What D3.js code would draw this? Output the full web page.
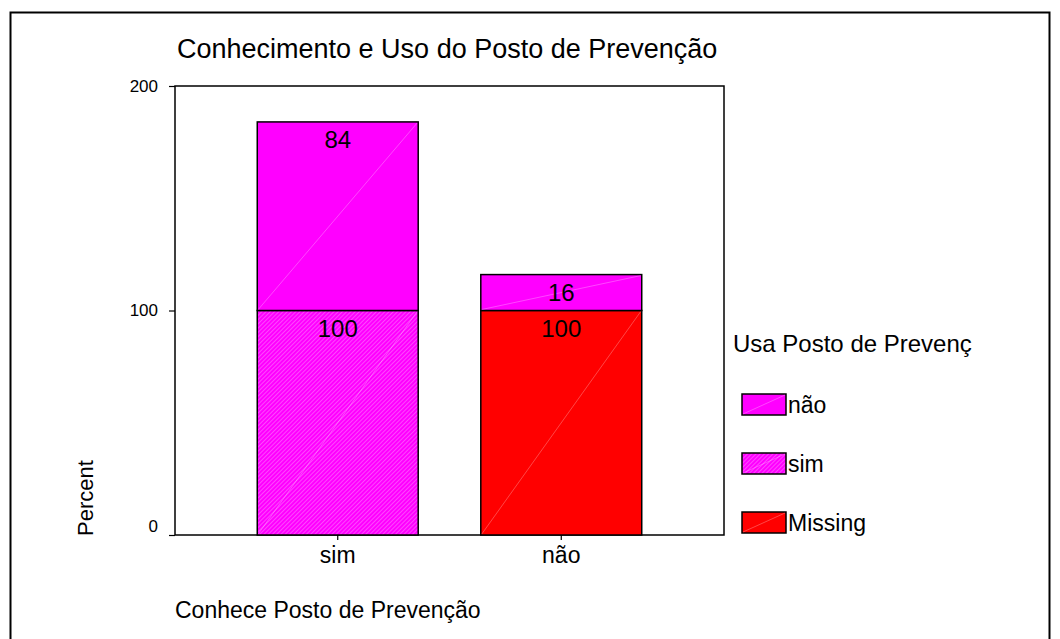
<!DOCTYPE html>
<html><head><meta charset="utf-8">
<script src="https://cdn.jsdelivr.net/npm/d3@7"></script>
<style>body{margin:0;background:#fff}svg{display:block;font-family:"Liberation Sans",Arial,sans-serif}</style>
</head><body><svg id="c" width="1060" height="639"></svg>
<script>
const categories = ["sim", "não"];
const seriesNames = ["Missing", "sim", "não"];
const missingVals = [0, 100];
const simVals = [100, 0];
const naoVals = [84, 16];
const yTicks = [0, 100, 200];
const legendOrder = ["não", "sim", "Missing"];
const title = "Conhecimento e Uso do Posto de Prevenção";
const xTitle = "Conhece Posto de Prevenção";
const yTitle = "Percent";
const legendTitle = "Usa Posto de Prevenç";

const FF = "Liberation Sans, Arial, sans-serif";
const colors = {"não": "#ff00ff", "sim": "url(#hatch)", "Missing": "#ff0000"};
const svg = d3.select("#c");
const defs = svg.append("defs");
const pat = defs.append("pattern").attr("id", "hatch").attr("patternUnits", "userSpaceOnUse")
  .attr("width", 3).attr("height", 3).attr("patternTransform", "rotate(45)");
pat.append("rect").attr("width", 3).attr("height", 3).attr("fill", "#ff00ff");
pat.append("line").attr("x1", 0).attr("y1", 0).attr("x2", 0).attr("y2", 3)
  .attr("stroke", "#ff8cff").attr("stroke-width", 1);

// outer frame
svg.append("rect").attr("x", 10.5).attr("y", 12.5).attr("width", 1039).attr("height", 640)
  .attr("fill", "none").attr("stroke", "#000").attr("stroke-width", 2);

const L = 175, R = 724, T = 86, B = 535;
const y = d3.scaleLinear().domain([0, 200]).range([B, T]);
const x = d3.scaleBand().domain(categories).range([L, R]).paddingInner(0.28).paddingOuter(0.368);

svg.append("text").attr("x", 177).attr("y", 58).attr("font-size", 27).text(title);

// plot box
svg.append("rect").attr("x", L).attr("y", T).attr("width", R - L).attr("height", B - T)
  .attr("fill", "none").attr("stroke", "#000").attr("stroke-width", 1.5);

const yAxis = d3.axisLeft(y).tickValues(yTicks).tickSize(6).tickPadding(11);
const gy = svg.append("g").attr("transform", `translate(${L},0)`).call(yAxis);
gy.select(".domain").remove();
gy.selectAll("text").attr("font-size", 17).attr("font-family", FF)
  .attr("dy", d => d === 0 ? "-0.2em" : "0.32em");
gy.selectAll("line").attr("stroke-width", 1.2);

const xAxis = d3.axisBottom(x).tickSize(5).tickPadding(6);
const gx = svg.append("g").attr("transform", `translate(0,${B})`).call(xAxis);
gx.select(".domain").remove();
gx.selectAll("text").attr("font-size", 23).attr("font-family", FF).attr("dy", "0.72em");
gx.selectAll("line").attr("stroke-width", 1.2);

const data = categories.map((c, i) => ({cat: c, "Missing": missingVals[i], "sim": simVals[i], "não": naoVals[i]}));
const stack = d3.stack().keys(seriesNames)(data);

stack.forEach(layer => {
  layer.forEach(d => {
    const v = d[1] - d[0];
    if (v <= 0) return;
    const x0 = x(d.data.cat), w = x.bandwidth();
    const y0 = y(d[0]), y1 = y(d[1]);
    svg.append("rect").attr("x", x0).attr("y", y1).attr("width", w).attr("height", y0 - y1)
      .attr("fill", colors[layer.key]).attr("stroke", "#000").attr("stroke-width", 1.5);
    svg.append("line").attr("x1", x0 + 1).attr("y1", y0 - 1).attr("x2", x0 + w - 1).attr("y2", y1 + 1)
      .attr("stroke", "#ffffff").attr("stroke-opacity", 0.35).attr("stroke-width", 0.8);
    svg.append("text").attr("x", x0 + w / 2).attr("y", y1 + 26.5).attr("text-anchor", "middle")
      .attr("font-size", 24).text(v);
  });
});

// axis titles
svg.append("text").attr("x", 175).attr("y", 618).attr("font-size", 23).text(xTitle);
svg.append("text").attr("transform", "translate(93,498) rotate(-90)").attr("text-anchor", "middle")
  .attr("font-size", 22).text(yTitle);

// legend
svg.append("text").attr("x", 733).attr("y", 352).attr("font-size", 24).text(legendTitle);
const lg = svg.append("g");
legendOrder.forEach((k, i) => {
  const yy = 394 + i * 59;
  lg.append("rect").attr("x", 742).attr("y", yy).attr("width", 44).attr("height", 21)
    .attr("fill", colors[k]).attr("stroke", "#000").attr("stroke-width", 1.5);
  lg.append("line").attr("x1", 743).attr("y1", yy + 20).attr("x2", 785).attr("y2", yy + 1)
    .attr("stroke", "#fff").attr("stroke-opacity", 0.35).attr("stroke-width", 0.8);
  lg.append("text").attr("x", 788).attr("y", yy + 19).attr("font-size", 23).text(k);
});
</script></body></html>
